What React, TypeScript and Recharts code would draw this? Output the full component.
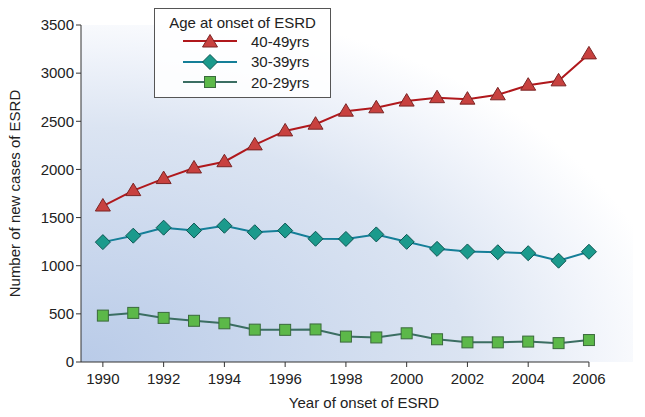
import React from "react";
import { LineChart, Line, XAxis, YAxis, CartesianGrid, Legend, ReferenceLine } from "recharts";

const years = [1990, 1991, 1992, 1993, 1994, 1995, 1996, 1997, 1998, 1999, 2000, 2001, 2002, 2003, 2004, 2005, 2006];
const age40to49 = [1620, 1780, 1905, 2015, 2080, 2255, 2400, 2470, 2605, 2640, 2710, 2745, 2730, 2775, 2875, 2920, 3200];
const age30to39 = [1245, 1312, 1395, 1365, 1415, 1348, 1365, 1280, 1278, 1325, 1248, 1175, 1148, 1140, 1130, 1052, 1145];
const age20to29 = [482, 510, 458, 428, 402, 336, 334, 338, 264, 255, 298, 236, 204, 204, 212, 196, 228];

const xTicks = [1990, 1992, 1994, 1996, 1998, 2000, 2002, 2004, 2006];
const yTicks = [0, 500, 1000, 1500, 2000, 2500, 3000, 3500];

const series = [
  { key: "a40", name: "40-49yrs", line: "#b0181c", fill: "#c8413f", edge: "#7a2424", shape: "triangle" },
  { key: "a30", name: "30-39yrs", line: "#157f98", fill: "#1b9a8c", edge: "#0c5652", shape: "diamond" },
  { key: "a20", name: "20-29yrs", line: "#3b6e62", fill: "#5cb849", edge: "#3a6a3c", shape: "square" },
];

const data = years.map((y, i) => ({ year: y, a40: age40to49[i], a30: age30to39[i], a20: age20to29[i] }));

const FONT = "'Liberation Sans', Arial, Helvetica, sans-serif";

function Marker({ shape, cx, cy, fill, edge }: any) {
  if (shape === "triangle") {
    return <path d={`M${cx},${cy - 7.5} L${cx + 7.5},${cy + 5} L${cx - 7.5},${cy + 5} Z`} fill={fill} stroke={edge} strokeWidth={1} />;
  }
  if (shape === "diamond") {
    return <path d={`M${cx},${cy - 7.5} L${cx + 7.5},${cy} L${cx},${cy + 7.5} L${cx - 7.5},${cy} Z`} fill={fill} stroke={edge} strokeWidth={1} />;
  }
  return <rect x={cx - 5.5} y={cy - 5.5} width={11} height={11} fill={fill} stroke={edge} strokeWidth={1} />;
}

function makeDot(s: any) {
  return (props: any) => (
    <Marker key={`${s.key}-${props.index}`} shape={s.shape} cx={props.cx} cy={props.cy} fill={s.fill} edge={s.edge} />
  );
}

function LegendBox() {
  return (
    <div style={{ width: 177, height: 90, border: "1px solid #555", background: "rgba(255,255,255,0.85)", fontFamily: FONT, color: "#222", boxSizing: "border-box" }}>
      <div style={{ fontSize: 15, textAlign: "center", marginTop: 5, lineHeight: "17px" }}>Age at onset of ESRD</div>
      {series.map((s) => (
        <div key={s.key} style={{ display: "flex", alignItems: "center", height: 20.5 }}>
          <svg width={84} height={20} style={{ flex: "none" }}>
            <line x1={28} x2={82} y1={10} y2={10} stroke={s.line} strokeWidth={2} />
            <Marker shape={s.shape} cx={55} cy={s.shape === "triangle" ? 11 : 10} fill={s.fill} edge={s.edge} />
          </svg>
          <span style={{ fontSize: 15, marginLeft: 12 }}>{s.name}</span>
        </div>
      ))}
    </div>
  );
}

export default function App() {
  return (
    <div style={{ position: "absolute", left: 0, top: 0, background: "#fff" }}>
      <LineChart width={645} height={417} data={data} margin={{ top: 25, right: 12, left: 0, bottom: 0 }}>
        <defs>
          <radialGradient id="bg" cx="0" cy="1" r="1.2" fx="0" fy="1">
            <stop offset="0%" stopColor="#b9cbe8" />
            <stop offset="58%" stopColor="#dbe4f2" />
            <stop offset="78%" stopColor="#f2f5fb" />
            <stop offset="90%" stopColor="#ffffff" />
          </radialGradient>
        </defs>
        <CartesianGrid horizontal={false} vertical={false} fill="url(#bg)" />
        <XAxis
          dataKey="year"
          type="number"
          domain={[1989.28, 2007.45]}
          ticks={xTicks}
          axisLine={false}
          tickLine={{ stroke: "#333" }}
          tickSize={5}
          tickMargin={6}
          height={55}
          tick={{ fill: "#222", fontSize: 15, fontFamily: FONT }}
          label={{ value: "Year of onset of ESRD", position: "insideBottom", offset: 9, dx: 7, fill: "#222", fontSize: 15, fontFamily: FONT }}
        />
        <YAxis
          type="number"
          domain={[0, 3500]}
          ticks={yTicks}
          width={81}
          axisLine={{ stroke: "#333" }}
          tickLine={{ stroke: "#333" }}
          tickSize={5}
          tick={{ fill: "#222", fontSize: 15, fontFamily: FONT }}
          label={{ value: "Number of new cases of ESRD", angle: -90, position: "insideLeft", offset: 15, style: { textAnchor: "middle" }, fill: "#222", fontSize: 15, fontFamily: FONT }}
        />
        <ReferenceLine segment={[{ x: 1989.28, y: 0 }, { x: 2006, y: 0 }]} stroke="#333" strokeWidth={1} />
        <Legend
          verticalAlign="middle"
          align="center"
          layout="horizontal"
          wrapperStyle={{ top: 8, left: 154, width: 177 }}
          content={() => <LegendBox />}
        />
        {series.map((s) => (
          <Line
            key={s.key}
            dataKey={s.key}
            name={s.name}
            type="linear"
            stroke={s.line}
            strokeWidth={2}
            dot={makeDot(s)}
            activeDot={false}
            isAnimationActive={false}
          />
        ))}
      </LineChart>
    </div>
  );
}
